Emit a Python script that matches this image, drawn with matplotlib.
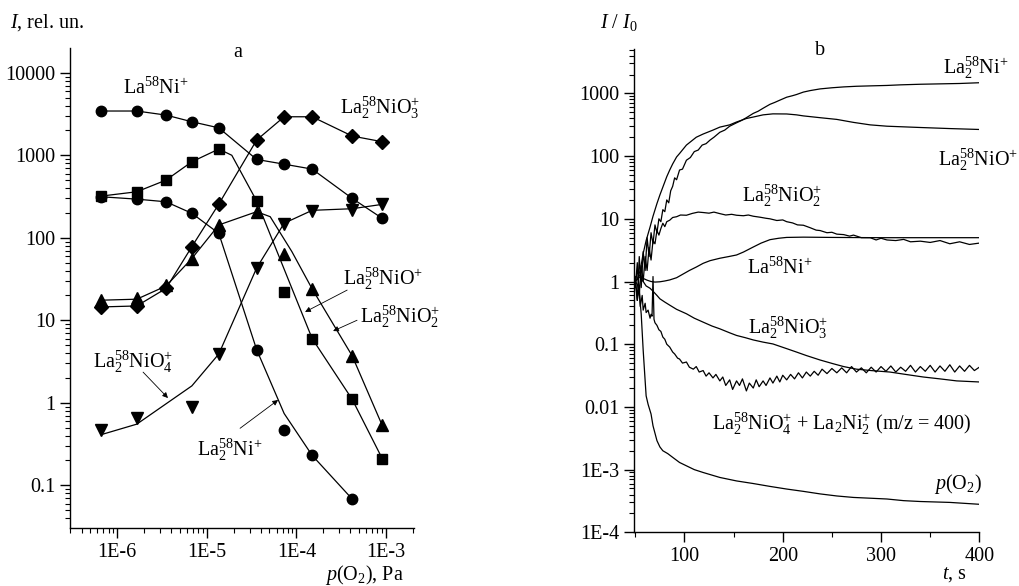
import matplotlib
matplotlib.use("Agg")
import matplotlib.pyplot as plt
from matplotlib.ticker import NullFormatter

# ---- panel a: intensity vs p(O2) ----
p_o2 = [6.6e-7, 1.65e-6, 3.5e-6, 6.8e-6, 1.36e-5, 3.6e-5, 7.3e-5, 1.5e-4, 4.2e-4, 9.1e-4]
la_ni = [3440, 3440, 3070, 2550, 2150, 890, 780, 680, 300, 172]
la2_nio = [320, 361, 500, 834, 1190, 279, 22, 6.0, 1.1, 0.21]
la2_nio2 = [17.5, 18.4, 26.7, 56, 143, 207, 63, 24, 3.7, 0.53]
la2_nio3 = [14.5, 14.9, 24.3, 78, 256, 1530, 2930, 2930, 1710, 1460]

p_la2_ni = [6.6e-7, 1.65e-6, 3.5e-6, 6.8e-6, 1.36e-5, 3.6e-5, 7.3e-5, 1.5e-4, 4.2e-4]
la2_ni = [314, 294, 273, 198, 113, 4.4, 0.47, 0.23, 0.068]
la2_ni_fit = [314, 294, 273, 198, 113, 4.4, 0.74, 0.23, 0.068]

p_nio4 = [6.6e-7, 1.65e-6, 6.8e-6, 1.36e-5, 3.6e-5, 7.3e-5, 1.5e-4, 4.2e-4, 9.1e-4]
la2_nio4 = [0.47, 0.66, 0.9, 3.9, 43, 147, 210, 220, 254]
la2_nio4_fit = [0.41, 0.55, 1.6, 3.9, 43, 150, 215, 225, 254]

p_nio_fit = [6.6e-7, 1.65e-6, 3.5e-6, 6.8e-6, 1.36e-5, 1.9e-5, 3.6e-5, 1.5e-4, 4.2e-4, 9.1e-4]
la2_nio_fit = [320, 361, 500, 834, 1190, 1000, 279, 6.0, 1.1, 0.21]

p_nio2_fit = [6.6e-7, 1.65e-6, 3.5e-6, 6.8e-6, 1.36e-5, 3.6e-5, 5.1e-5, 8.9e-5, 1.5e-4, 4.2e-4, 9.1e-4]
la2_nio2_fit = [17.5, 18, 26, 56, 143, 207, 180, 68, 24, 3.7, 0.53]

# ---- panel b: I/I0 vs time ----
t_ni2 = [50, 52, 54, 56, 58, 60, 62, 64, 66, 68, 70, 72, 74, 76, 78, 80, 82, 84, 86, 88,
         90, 92, 95, 98, 102, 106, 110, 114, 118, 122, 126, 130, 136, 141, 146, 153, 158, 163, 170, 175,
         180, 187, 192, 197, 204, 210, 214, 221, 228, 238, 250, 262, 275, 290, 306, 320, 340, 360, 380, 400]
v_ni2 = [1.2, 0.5, 2.5, 0.8, 3.0, 1.5, 5.0, 2.5, 6.0, 4.0, 8, 6, 10, 9, 14, 13, 20, 18, 28, 33,
         45, 42, 60, 62, 86, 95, 118, 125, 150, 158, 180, 200, 240, 260, 300, 340, 370, 410, 480, 520,
         580, 670, 720, 780, 870, 920, 960, 1050, 1110, 1180, 1230, 1270, 1300, 1320, 1340, 1370, 1400, 1420, 1440, 1480]

t_nio = [50, 52, 55, 58, 61, 65, 68, 72, 75, 78, 82, 85, 88, 92, 95, 102, 112, 119, 129, 136,
         146, 153, 163, 170, 180, 190, 204, 214, 221, 238, 255, 272, 289, 306, 340, 370, 400]
v_nio = [1.0, 1.1, 1.5, 2.8, 4.5, 7.4, 11, 17.5, 24, 32, 47, 60, 75, 97, 110, 150, 200, 225, 260, 290,
         315, 350, 398, 420, 455, 472, 470, 455, 438, 410, 385, 345, 315, 300, 286, 275, 266]

t_nio2 = [50, 52, 54, 56, 58, 60, 62, 64, 66, 68, 70, 72, 74, 76, 78, 80, 82, 85, 88, 92,
          96, 102, 108, 114, 119, 125, 130, 136, 142, 148, 153, 160, 165, 170, 177, 183, 187, 194, 200, 204,
          210, 215, 221, 228, 234, 238, 245, 250, 255, 262, 268, 272, 280, 289, 295, 300, 306, 315, 323, 330,
          340, 350, 360, 370, 380, 390, 400]
v_nio2 = [0.8, 2.0, 0.6, 1.8, 1.0, 2.5, 1.5, 3.5, 2.2, 4.5, 4.0, 6.5, 5.5, 7.0, 8.5, 7.5, 9.0, 9.5, 10.5, 10.8,
          11.5, 11.4, 12.2, 12.8, 12.6, 12.3, 12.8, 12.1, 11.5, 11.8, 11.4, 11.2, 11.5, 11.0, 10.6, 10.2, 10.0, 9.4, 9.6, 9.0,
          8.6, 8.0, 7.9, 7.2, 6.6, 6.5, 6.0, 6.1, 5.7, 5.6, 5.3, 5.5, 5.0, 5.0, 4.6, 4.9, 4.6, 4.5, 4.7, 4.3,
          4.4, 4.2, 4.5, 4.0, 4.3, 3.9, 4.1]

t_lani = [50, 55, 58, 62, 66, 70, 75, 80, 85, 92, 98, 105, 112, 119, 126, 136, 145, 153, 160, 170,
          178, 187, 196, 204, 221, 250, 300, 350, 400]
v_lani = [1.0, 1.2, 1.12, 1.05, 1.0, 0.98, 0.99, 1.02, 1.06, 1.15, 1.3, 1.5, 1.7, 1.95, 2.15, 2.35, 2.5, 2.65, 2.95, 3.55,
          4.1, 4.65, 4.9, 5.05, 5.1, 5.05, 5.0, 5.0, 5.0]

t_nio3 = [50, 52, 55, 58, 61, 65, 68, 72, 75, 80, 85, 92, 102, 110, 119, 128, 136, 146, 153, 162,
          170, 180, 190, 204, 214, 224, 238, 251, 262, 275, 290, 309, 325, 343, 360, 377, 400]
v_nio3 = [1.0, 1.4, 1.2, 1.0, 0.85, 0.78, 0.7, 0.6, 0.53, 0.47, 0.42, 0.36, 0.306, 0.26, 0.225, 0.195, 0.176, 0.152, 0.138, 0.127,
          0.117, 0.108, 0.101, 0.085, 0.075, 0.066, 0.056, 0.049, 0.044, 0.040, 0.038, 0.036, 0.033, 0.030, 0.028, 0.026, 0.025]

t_m400 = [50, 52, 54, 55, 57, 58, 60, 61, 63, 65, 66, 67, 68, 69, 70, 72, 74, 76, 78, 80,
          82, 85, 88, 90, 93, 95, 98, 102, 105, 109, 112, 115, 119, 122, 125, 129, 132, 136, 139, 142,
          146, 149, 153, 156, 159, 163, 166, 170, 173, 176, 180, 183, 187, 190, 194, 197, 200, 204, 208, 212,
          216, 220, 224, 228, 232, 236, 240, 245, 250, 255, 260, 265, 270, 275, 280, 285, 290, 295, 300, 305,
          310, 315, 320, 325, 330, 335, 340, 345, 350, 355, 360, 365, 370, 375, 380, 385, 390, 395, 400]
v_m400 = [1.0, 0.5, 0.8, 0.4, 0.6, 0.35, 0.45, 0.32, 0.35, 0.26, 0.3, 0.28, 1.2, 0.25, 0.22, 0.2, 0.17, 0.16, 0.13, 0.12,
          0.1, 0.09, 0.075, 0.07, 0.06, 0.058, 0.05, 0.052, 0.043, 0.040, 0.044, 0.036, 0.038, 0.031, 0.035, 0.029, 0.033, 0.026, 0.030, 0.022,
          0.027, 0.019, 0.026, 0.022, 0.028, 0.018, 0.024, 0.020, 0.027, 0.021, 0.026, 0.022, 0.029, 0.024, 0.031, 0.025, 0.032, 0.027, 0.033, 0.028,
          0.035, 0.029, 0.036, 0.031, 0.037, 0.032, 0.040, 0.034, 0.041, 0.035, 0.042, 0.035, 0.044, 0.036, 0.042, 0.035, 0.043, 0.036, 0.044, 0.037,
          0.045, 0.036, 0.043, 0.037, 0.046, 0.036, 0.044, 0.037, 0.046, 0.036, 0.045, 0.037, 0.047, 0.036, 0.045, 0.037, 0.046, 0.038, 0.043]

t_po2 = [50, 52, 54, 56, 58, 60, 61, 63, 66, 68, 72, 75, 78, 83, 88, 95, 102, 110, 119, 136,
         153, 170, 187, 204, 221, 238, 255, 272, 289, 306, 323, 340, 370, 400]
v_po2 = [1.0, 0.9, 0.7, 0.3, 0.08, 0.026, 0.015, 0.011, 0.0077, 0.005, 0.0029, 0.0023, 0.002, 0.0018, 0.00157, 0.0013, 0.00115, 0.001, 0.0009, 0.00075,
         0.00066, 0.0006, 0.00054, 0.00049, 0.00045, 0.00041, 0.00038, 0.00036, 0.00035, 0.00034, 0.00032, 0.00031, 0.0003, 0.00028]

a_xticks = [1e-6, 1e-5, 1e-4, 1e-3]
a_xlabels = ["1E-6", "1E-5", "1E-4", "1E-3"]
a_yticks = [0.1, 1, 10, 100, 1000, 10000]
a_ylabels = ["0.1", "1", "10", "100", "1000", "10000"]
b_xticks = [100, 200, 300, 400]
b_yticks = [1e-4, 1e-3, 0.01, 0.1, 1, 10, 100, 1000]
b_ylabels = ["1E-4", "1E-3", "0.01", "0.1", "1", "10", "100", "1000"]

plt.rcParams["font.family"] = ["Liberation Serif", "DejaVu Serif"]
plt.rcParams["mathtext.fontset"] = "custom"
plt.rcParams["mathtext.rm"] = "Liberation Serif"
plt.rcParams["mathtext.it"] = "Liberation Serif:italic"
plt.rcParams["font.size"] = 14.5


def style_axis(ax):
    for s in ["top", "right"]:
        ax.spines[s].set_visible(False)
    for s in ["left", "bottom"]:
        ax.spines[s].set_linewidth(1.0)
    ax.tick_params(which="major", direction="out", length=7, width=1.0, labelsize=14.5)
    ax.tick_params(which="minor", direction="out", length=3.5, width=0.8)


def arrow(ax, tip, tail):
    ax.annotate("", xy=tip, xytext=tail,
                arrowprops=dict(arrowstyle="-|>", color="black", lw=0.6, mutation_scale=8,
                                shrinkA=0, shrinkB=0))


def main():
    fig = plt.figure(figsize=(10.2, 5.86), dpi=100)
    ax = fig.add_axes([0.0686, 0.099, 0.3373, 0.819])
    ax.set_xscale("log")
    ax.set_yscale("log")
    kw = dict(color="black", lw=0.9)
    mk = dict(color="black", ls="none")

    ax.plot(p_o2, la_ni, **kw)
    ax.plot(p_o2, la_ni, marker="o", ms=7.5, **mk)
    ax.plot(p_la2_ni, la2_ni_fit, **kw)
    ax.plot(p_la2_ni, la2_ni, marker="o", ms=7.5, **mk)
    ax.plot(p_nio_fit, la2_nio_fit, **kw)
    ax.plot(p_o2, la2_nio, marker="s", ms=7, **mk)
    ax.plot(p_nio2_fit, la2_nio2_fit, **kw)
    ax.plot(p_o2, la2_nio2, marker="^", ms=8, **mk)
    ax.plot(p_o2, la2_nio3, **kw)
    ax.plot(p_o2, la2_nio3, marker="D", ms=7, **mk)
    ax.plot(p_nio4, la2_nio4_fit, **kw)
    ax.plot(p_nio4, la2_nio4, marker="v", ms=8, **mk)

    ax.set_xlim(2.96e-7, 2.06e-3)
    ax.set_ylim(0.0303, 19950)
    ax.set_xticks(a_xticks)
    ax.set_xticklabels(a_xlabels)
    ax.set_yticks(a_yticks)
    ax.set_yticklabels(a_ylabels)
    ax.xaxis.set_minor_formatter(NullFormatter())
    ax.yaxis.set_minor_formatter(NullFormatter())
    style_axis(ax)

    ax.text(2.23e-5, 17800, "a", ha="center", va="center")
    ax.text(1.16e-6, 6500, "La$^{58}$Ni$^{+}$", va="center")
    ax.text(3.07e-4, 3730, "La$_2^{58}$NiO$_3^{+}$", va="center")
    ax.text(3.3e-4, 32, "La$_2^{58}$NiO$^{+}$", va="center")
    arrow(ax, (1.25e-4, 12.6), (3.69e-4, 23.2))
    ax.text(5.15e-4, 10.9, "La$_2^{58}$NiO$_2^{+}$", va="center")
    arrow(ax, (2.57e-4, 7.4), (4.76e-4, 10.0))
    ax.text(5.37e-7, 3.1, "La$_2^{58}$NiO$_4^{+}$", va="center")
    arrow(ax, (3.68e-6, 1.14), (1.94e-6, 2.35))
    ax.text(7.8e-6, 0.267, "La$_2^{58}$Ni$^{+}$", va="center")
    arrow(ax, (6.25e-5, 1.08), (2.35e-5, 0.49))

    fig.text(0.0098, 0.962, "$I$, rel. un.", va="center")
    fig.text(0.319, 0.019, "$p$(O$_2$), Pa", va="center")

    bx = fig.add_axes([0.6219, 0.0916, 0.3382, 0.8247])
    bx.set_yscale("log")
    lw = dict(color="black", lw=0.9)
    bx.plot(t_ni2, v_ni2, **lw)
    bx.plot(t_nio, v_nio, **lw)
    bx.plot(t_nio2, v_nio2, **lw)
    bx.plot(t_lani, v_lani, **lw)
    bx.plot(t_nio3, v_nio3, **lw)
    bx.plot(t_m400, v_m400, **lw)
    bx.plot(t_po2, v_po2, **lw)

    bx.set_xlim(49, 400)
    bx.set_ylim(1e-4, 5100)
    bx.set_xticks(b_xticks)
    bx.set_xticks([50, 150, 250, 350], minor=True)
    bx.set_yticks(b_yticks)
    bx.set_yticklabels(b_ylabels)
    bx.yaxis.set_minor_formatter(NullFormatter())
    style_axis(bx)

    bx.text(237.8, 4900, "b", ha="center", va="center")
    bx.text(363, 2540, "La$_2^{58}$Ni$^{+}$", va="center")
    bx.text(358, 86, "La$_2^{58}$NiO$^{+}$", va="center")
    bx.text(158.4, 23.7, "La$_2^{58}$NiO$_2^{+}$", va="center")
    bx.text(163.4, 1.62, "La$^{58}$Ni$^{+}$", va="center")
    bx.text(164.5, 0.185, "La$_2^{58}$NiO$_3^{+}$", va="center")
    bx.text(127.8, 0.0054, "La$_2^{58}$NiO$_4^{+}$ + La$_2$Ni$_2^{+}$ (m/z = 400)", va="center")
    bx.text(402.8, 5.96e-4, "$p$(O$_2$)", ha="right", va="center")

    fig.text(0.588, 0.961, "$I$ / $I_0$", va="center")
    fig.text(0.9235, 0.019, "$t$, s", va="center")

    fig.savefig("out.png", dpi=100)


if __name__ == "__main__":
    main()
